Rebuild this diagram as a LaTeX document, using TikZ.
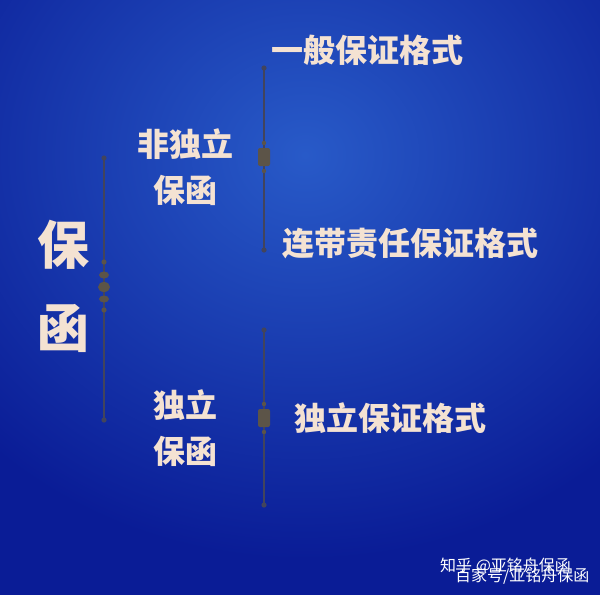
\documentclass[tikz,border=0pt]{standalone}
\usepackage{fontspec}
\newfontfamily\cjk{Noto Sans CJK SC}
\usetikzlibrary{shapes.geometric,calc}
\definecolor{bgdark}{RGB}{10,28,150}
\definecolor{bglight}{RGB}{40,90,200}
\definecolor{txt}{RGB}{244,226,210}
\definecolor{linec}{RGB}{66,68,92}
\definecolor{orn}{RGB}{92,84,72}
\tikzset{
  lbl/.style={text=txt,font=\cjk\bfseries\fontsize{32}{35}\selectfont,inner sep=0pt},
  big/.style={text=txt,font=\cjk\bfseries\fontsize{52}{56}\selectfont,inner sep=0pt},
  wm/.style={text=white,font=\cjk\fontsize{16}{18}\selectfont,inner sep=0pt,anchor=west},
  brk/.style={draw=linec,line width=2pt},
  enddot/.style={fill=linec},
}
\begin{document}
\begin{tikzpicture}[x=1pt,y=-1pt]
\useasboundingbox (0,0) rectangle (600,595);
\fill[bgdark] (0,0) rectangle (600,595);
\shade[inner color=bglight,outer color=bgdark] (-150,-250) rectangle (760,560);
% labels
\node[big] (bao) at (63,245) {保};
\node[big] (han) at (63,328) {函};
\node[lbl] (fdl1) at (185,144) {非独立};
\node[lbl] (fdl2) at (185,190) {保函};
\node[lbl] (dl1) at (185,405) {独立};
\node[lbl] (dl2) at (185,451) {保函};
\node[lbl,anchor=west] (ybbz) at (271,50) {一般保证格式};
\node[lbl,anchor=west] (ldzr) at (282,243) {连带责任保证格式};
\node[lbl,anchor=west] (dlbz) at (294,418) {独立保证格式};
% bracket coordinates
\coordinate (b1t) at (104,158);
\coordinate (b1b) at (104,420);
\coordinate (b1m) at (104,287);
\coordinate (b2t) at (264,68);
\coordinate (b2b) at (264,250);
\coordinate (b2m) at (264,157);
\coordinate (b3t) at (264,330);
\coordinate (b3b) at (264,505);
\coordinate (b3m) at (264,418);
\draw[brk] (b1t) -- (b1b);
\draw[brk] (b2t) -- (b2b);
\draw[brk] (b3t) -- (b3b);
\foreach \p in {b1t,b1b,b2t,b2b,b3t,b3b} \fill[enddot] (\p) circle (2.6);
% ornaments
\foreach \dy in {-25,23} \fill[orn] ($(b1m)+(0,\dy)$) circle (2.6);
\fill[orn] ($(b1m)+(0,-12)$) ellipse (5 and 3.5);
\fill[orn] ($(b1m)+(0,0)$) ellipse (6 and 5);
\fill[orn] ($(b1m)+(0,12)$) ellipse (5 and 3.5);
\foreach \m in {b2m,b3m}{
  \fill[orn] ($(\m)+(0,-14)$) circle (2.2);
  \fill[orn] ($(\m)+(0,14)$) circle (2.2);
  \fill[orn,rounded corners=2pt] ($(\m)+(-6,-9)$) rectangle ($(\m)+(6,9)$);
}
% watermark
\node[wm] (wm1) at (440,566) {知乎 @亚铭舟保函};
\node[wm] (wm2) at (455,576) {百家号/亚铭舟保函};
\end{tikzpicture}
\end{document}
